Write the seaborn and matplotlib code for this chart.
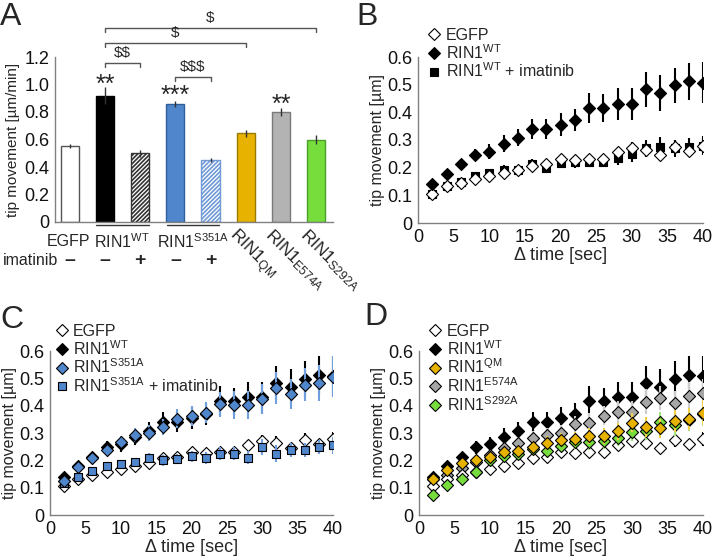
import matplotlib
matplotlib.use('Agg')
import matplotlib.pyplot as plt
import seaborn as sns
from matplotlib.lines import Line2D
from matplotlib.ticker import FuncFormatter

sns.set_theme(style='white')
plt.rcParams['font.family'] = ['Liberation Sans', 'DejaVu Sans']
plt.rcParams['mathtext.default'] = 'regular'
plt.rcParams['hatch.linewidth'] = 1.2

# ---------------- data ----------------
bar_names = ['EGFP', 'RIN1WT', 'RIN1WT+imatinib', 'RIN1S351A', 'RIN1S351A+imatinib',
             'RIN1QM', 'RIN1E574A', 'RIN1S292A']
bar_values = [0.55, 0.92, 0.50, 0.86, 0.45, 0.645, 0.80, 0.60]
bar_errors = [0.015, 0.06, 0.025, 0.02, 0.015, 0.025, 0.03, 0.03]
bar_colors = ['#ffffff', '#000000', '#ffffff', '#4f86cc', '#ffffff', '#e8b300', '#b3b3b3', '#77dd3c']
bar_edges = ['#555555', '#000000', '#333333', '#2f5f99', '#6f9ad6', '#9a7a00', '#7a7a7a', '#4aa02a']
bar_hatches = ['', '', '////////', '', '////////', '', '', '']
imatinib_marks = ['–', '–', '+', '–', '+']

time = [2, 4, 6, 8, 10, 12, 14, 16, 18, 20, 22, 24, 26, 28, 30, 32, 34, 36, 38, 40]

egfp = [0.105, 0.133, 0.146, 0.158, 0.170, 0.179, 0.191, 0.207, 0.214, 0.230, 0.226, 0.231,
        0.232, 0.256, 0.272, 0.265, 0.244, 0.274, 0.259, 0.279]
egfp_err = [0.008, 0.008, 0.008, 0.010, 0.010, 0.010, 0.010, 0.012, 0.012, 0.015, 0.015, 0.015,
            0.015, 0.020, 0.020, 0.025, 0.020, 0.025, 0.020, 0.025]

wt = [0.140, 0.178, 0.214, 0.247, 0.258, 0.287, 0.309, 0.339, 0.340, 0.356, 0.371, 0.416,
      0.416, 0.430, 0.430, 0.483, 0.470, 0.497, 0.512, 0.507]
wt_err = [0.010, 0.010, 0.015, 0.022, 0.027, 0.030, 0.032, 0.037, 0.037, 0.040, 0.040, 0.055,
          0.050, 0.058, 0.058, 0.063, 0.065, 0.065, 0.068, 0.075]

wt_imat = [0.106, 0.132, 0.148, 0.170, 0.180, 0.193, 0.190, 0.213, 0.200, 0.218, 0.220, 0.222,
           0.222, 0.236, 0.250, 0.270, 0.276, 0.270, 0.276, 0.280]
wt_imat_err = [0.008, 0.010, 0.010, 0.012, 0.015, 0.015, 0.015, 0.018, 0.018, 0.020, 0.020, 0.020,
               0.020, 0.025, 0.030, 0.030, 0.035, 0.030, 0.030, 0.035]

s351a = [0.125, 0.177, 0.210, 0.236, 0.268, 0.293, 0.300, 0.322, 0.352, 0.362, 0.375, 0.405,
         0.403, 0.402, 0.425, 0.465, 0.443, 0.476, 0.482, 0.505]
s351a_err = [0.010, 0.012, 0.015, 0.020, 0.022, 0.025, 0.028, 0.030, 0.035, 0.035, 0.040, 0.045,
             0.050, 0.050, 0.055, 0.060, 0.055, 0.060, 0.065, 0.075]

s351a_imat = [0.117, 0.138, 0.160, 0.178, 0.185, 0.195, 0.210, 0.200, 0.205, 0.215, 0.210, 0.225,
              0.225, 0.210, 0.248, 0.225, 0.238, 0.238, 0.250, 0.255]
s351a_imat_err = [0.010, 0.010, 0.012, 0.015, 0.015, 0.015, 0.018, 0.020, 0.020, 0.020, 0.022, 0.022,
                  0.025, 0.025, 0.030, 0.030, 0.025, 0.025, 0.025, 0.030]

qm = [0.130, 0.165, 0.190, 0.200, 0.213, 0.230, 0.235, 0.250, 0.263, 0.276, 0.278, 0.289,
      0.290, 0.306, 0.337, 0.322, 0.317, 0.343, 0.352, 0.375]
qm_err = [0.010, 0.012, 0.015, 0.015, 0.018, 0.020, 0.020, 0.022, 0.025, 0.025, 0.025, 0.030,
          0.030, 0.030, 0.035, 0.035, 0.035, 0.040, 0.040, 0.045]

e574a = [0.130, 0.145, 0.172, 0.195, 0.220, 0.244, 0.264, 0.283, 0.292, 0.300, 0.333, 0.337,
         0.364, 0.376, 0.377, 0.415, 0.428, 0.409, 0.437, 0.447]
e574a_err = [0.010, 0.012, 0.015, 0.015, 0.018, 0.020, 0.022, 0.025, 0.025, 0.028, 0.030, 0.035,
             0.035, 0.040, 0.040, 0.045, 0.045, 0.045, 0.050, 0.050]

s292a = [0.073, 0.110, 0.132, 0.156, 0.200, 0.215, 0.225, 0.240, 0.234, 0.252, 0.268, 0.266,
         0.271, 0.283, 0.304, 0.309, 0.342, 0.328, 0.346, 0.370]
s292a_err = [0.010, 0.012, 0.012, 0.015, 0.015, 0.018, 0.020, 0.020, 0.022, 0.022, 0.025, 0.028,
             0.030, 0.030, 0.035, 0.035, 0.035, 0.040, 0.040, 0.045]

# ---------------- figure ----------------
fig = plt.figure(figsize=(7.12, 5.56), dpi=100)
W, H = 712.0, 556.0

def ax_at(l, t, r, b):
    return fig.add_axes([l / W, 1 - b / H, (r - l) / W, (b - t) / H])

axA = ax_at(55, 57, 333, 222)
axB = ax_at(418, 57, 703, 223)
axC = ax_at(50, 351, 333, 515)
axD = ax_at(419, 351, 703, 515)

spine_col = '#808080'
fmt = FuncFormatter(lambda v, p: '0' if abs(v) < 1e-9 else f'{v:.1f}')

def style(ax):
    for s in ['top', 'right']:
        ax.spines[s].set_visible(False)
    for s in ['left', 'bottom']:
        ax.spines[s].set_color(spine_col)
        ax.spines[s].set_linewidth(1.0)
    ax.tick_params(axis='both', which='both', labelsize=13, colors=spine_col,
                   labelcolor='#111111', length=3, width=0.8, direction='out', pad=1)
    ax.yaxis.set_major_formatter(fmt)

# ---------------- panel A ----------------
xpos = list(range(len(bar_names)))
sns.barplot(x=xpos, y=bar_values, hue=xpos, palette=bar_colors, legend=False,
            width=0.52, ax=axA, native_scale=True, linewidth=1.0, saturation=1)
for p, ec, h in zip(axA.patches, bar_edges, bar_hatches):
    p.set_edgecolor(ec)
    p.set_hatch(h)
axA.errorbar(xpos, bar_values, yerr=bar_errors, fmt='none', ecolor='#333333',
             elinewidth=1.0, capsize=0, zorder=5)
style(axA)
axA.set_xlim(-0.42, 7.48)
axA.set_ylim(0, 1.2)
axA.set_yticks([0, 0.2, 0.4, 0.6, 0.8, 1.0, 1.2])
axA.set_xticks([])
axA.set_ylabel('tip movement [µm/min]', fontsize=11, labelpad=3)

tr = axA.get_xaxis_transform()
axA.text(-0.05, -0.12, 'EGFP', transform=tr, ha='center', va='center', fontsize=11.5)
axA.text(1.47, -0.12, r'RIN1$^{WT}$', transform=tr, ha='center', va='center', fontsize=11.5)
axA.text(3.5, -0.12, r'RIN1$^{S351A}$', transform=tr, ha='center', va='center', fontsize=11.5)
axA.plot([0.75, 2.25], [-0.02, -0.02], transform=tr, color='#333333', lw=1, clip_on=False)
axA.plot([2.75, 4.25], [-0.02, -0.02], transform=tr, color='#333333', lw=1, clip_on=False)
axA.text(-0.33, -0.235, 'imatinib', transform=tr, ha='right', va='center', fontsize=11.5)
for i, m in enumerate(imatinib_marks):
    axA.text(i, -0.235, m, transform=tr, ha='center', va='center', fontsize=14,
             fontweight='bold')
for i, sub in zip([5, 6, 7], ['QM', 'E574A', 'S292A']):
    axA.text(i - 0.2, -0.02, r'RIN1$_{%s}$' % sub, transform=tr, ha='left', va='top',
             rotation=-45, rotation_mode='anchor', fontsize=12.5)

# significance brackets
brackets = [(1, 7, 1.41, '$'), (1, 5, 1.30, '$'), (1, 2, 1.156, '$$'), (3, 4, 1.055, '$$$')]
for x1, x2, yb, lab in brackets:
    axA.plot([x1, x1, x2, x2], [yb - 0.03, yb, yb, yb - 0.03], color='#555555', lw=1,
             clip_on=False)
    axA.text((x1 + x2) / 2, yb + 0.02, lab.replace('$', r'\$'), ha='center', va='bottom',
             fontsize=11, clip_on=False)
for x, y, s in [(1, 0.945, '**'), (3, 0.865, '***'), (6, 0.80, '**')]:
    axA.text(x, y, s, ha='center', va='baseline', fontsize=18)

# ---------------- time panels ----------------
def series(ax, y, err, marker, fc, ecol, z):
    ax.errorbar(time, y, yerr=err, fmt='none', ecolor=ecol, elinewidth=1.5, capsize=0,
                zorder=z)
    sns.scatterplot(x=time, y=y, marker=marker, s=38 if marker == 'D' else 32, color=fc,
                    edgecolor='black', linewidth=0.8, ax=ax, zorder=z + 0.5, legend=False)

def finish(ax, entries, anchor, spacing):
    style(ax)
    ax.set_xlim(0, 40)
    ax.set_ylim(0, 0.6)
    ax.set_xticks([0, 5, 10, 15, 20, 25, 30, 35, 40])
    ax.set_yticks([0, 0.1, 0.2, 0.3, 0.4, 0.5, 0.6])
    ax.set_ylabel('tip movement [µm]', fontsize=11.5, labelpad=2)
    ax.set_xlabel('Δ time [sec]', fontsize=13, labelpad=1)
    handles = [Line2D([], [], ls='none', marker=m, mfc=c, mec='black', mew=0.8,
                      ms=6.2 if m == 'D' else 5.7) for m, c, _ in entries]
    ax.legend(handles, [e[2] for e in entries], loc='upper left', bbox_to_anchor=anchor,
              frameon=False, fontsize=11.5, handlelength=0.8, handletextpad=0.3,
              labelspacing=spacing, borderaxespad=0, borderpad=0)

series(axB, wt_imat, wt_imat_err, 's', '#000000', '#000000', 3)
series(axB, egfp, egfp_err, 'D', '#ffffff', '#000000', 4)
series(axB, wt, wt_err, 'D', '#000000', '#000000', 5)
finish(axB, [('D', '#ffffff', 'EGFP'), ('D', '#000000', r'RIN1$^{WT}$'),
             ('s', '#000000', r'RIN1$^{WT}$ + imatinib')], (0.035, 1.175), 0.0)

series(axC, egfp, egfp_err, 'D', '#ffffff', '#000000', 3)
series(axC, s351a_imat, s351a_imat_err, 's', '#4f86cc', '#6f9fdc', 4)
series(axC, wt, wt_err, 'D', '#000000', '#000000', 5)
series(axC, s351a, s351a_err, 'D', '#4f86cc', '#6f9fdc', 6)
finish(axC, [('D', '#ffffff', 'EGFP'), ('D', '#000000', r'RIN1$^{WT}$'),
             ('D', '#4f86cc', r'RIN1$^{S351A}$'),
             ('s', '#4f86cc', r'RIN1$^{S351A}$ + imatinib')], (0.02, 1.165), 0.0)

series(axD, wt, wt_err, 'D', '#000000', '#000000', 3)
series(axD, e574a, e574a_err, 'D', '#a6a6a6', '#cccccc', 4)
series(axD, egfp, egfp_err, 'D', '#ffffff', '#000000', 5)
series(axD, s292a, s292a_err, 'D', '#77dd3c', '#9fe67a', 6)
series(axD, qm, qm_err, 'D', '#e8b300', '#f0d048', 7)
finish(axD, [('D', '#ffffff', 'EGFP'), ('D', '#000000', r'RIN1$^{WT}$'),
             ('D', '#e8b300', r'RIN1$^{QM}$'), ('D', '#a6a6a6', r'RIN1$^{E574A}$'),
             ('D', '#77dd3c', r'RIN1$^{S292A}$')], (0.035, 1.165), 0.0)

# panel letters
for x, y, l in [(0.0, 1 - 25 / H, 'A'), (0.500, 1 - 25 / H, 'B'),
                (0.0, 1 - 328 / H, 'C'), (0.512, 1 - 325 / H, 'D')]:
    fig.text(x, y, l, fontsize=23, ha='left', va='baseline')

fig.savefig('out.png', dpi=100)
